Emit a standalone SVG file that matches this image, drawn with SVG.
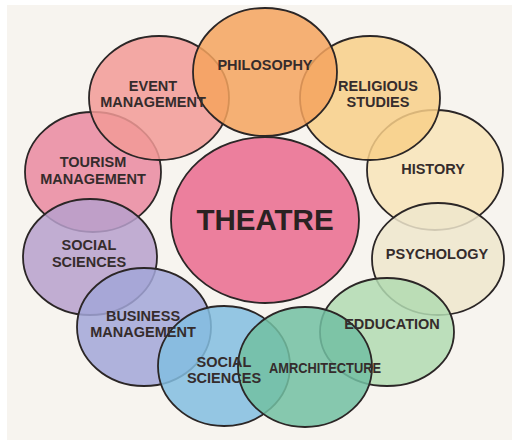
<svg xmlns="http://www.w3.org/2000/svg" width="512" height="441" viewBox="0 0 512 441">
<style>
.c{stroke:#2b2626;stroke-width:1.8;fill-opacity:0.85}
.t{font-family:"Liberation Sans",Arial,sans-serif;font-weight:bold;font-size:14.5px;fill:#352c2c;text-anchor:middle}
.big{font-size:29.5px;fill:#2a2222}
</style>
<rect x="0" y="0" width="512" height="441" fill="#ffffff"/>
<rect x="7" y="5" width="505" height="435" fill="#f7f4ef"/>
<g id="connectors"></g>
<g id="tourism"><ellipse class="c" cx="93" cy="172" rx="68" ry="60" fill="#ea88a0"/></g>
<g id="event"><ellipse class="c" cx="159" cy="98" rx="70" ry="62" fill="#f29a96"/></g>
<g id="history"><ellipse class="c" cx="435" cy="170" rx="68" ry="60" fill="#f8e4b8"/></g>
<g id="religious"><ellipse class="c" cx="370" cy="98" rx="70" ry="62" fill="#f8cf88"/></g>
<g id="philosophy"><ellipse class="c" cx="265" cy="72" rx="72" ry="64" fill="#f4a35e"/></g>
<g id="social-left"><ellipse class="c" cx="90" cy="257" rx="67" ry="58" fill="#b7a0cc"/></g>
<g id="psychology"><ellipse class="c" cx="438" cy="259" rx="66" ry="56" fill="#efe6cc"/></g>
<g id="business"><ellipse class="c" cx="144" cy="327" rx="67" ry="59" fill="#a2a6d8"/></g>
<g id="education"><ellipse class="c" cx="387" cy="332" rx="67" ry="54" fill="#b2dab2"/></g>
<g id="social-bottom"><ellipse class="c" cx="224" cy="366" rx="66" ry="60" fill="#82bde0"/></g>
<g id="architecture"><ellipse class="c" cx="305" cy="367" rx="67" ry="60" fill="#72bfa2"/></g>
<g id="theatre"><ellipse class="c" cx="265" cy="220" rx="94" ry="83" fill="#ea6a8e" fill-opacity="1"/></g>
<g id="labels">
<text class="t" x="265" y="70">PHILOSOPHY</text>
<text class="t" x="153" y="91">EVENT</text>
<text class="t" x="153" y="107">MANAGEMENT</text>
<text class="t" x="378" y="91">RELIGIOUS</text>
<text class="t" x="378" y="107">STUDIES</text>
<text class="t" x="93" y="167">TOURISM</text>
<text class="t" x="93" y="184">MANAGEMENT</text>
<text class="t" x="433" y="174">HISTORY</text>
<text class="t big" x="265" y="230">THEATRE</text>
<text class="t" x="89" y="250">SOCIAL</text>
<text class="t" x="89" y="267">SCIENCES</text>
<text class="t" x="437" y="259">PSYCHOLOGY</text>
<text class="t" x="143" y="321">BUSINESS</text>
<text class="t" x="143" y="337">MANAGEMENT</text>
<text class="t" x="392" y="329">EDDUCATION</text>
<text class="t" x="224" y="367">SOCIAL</text>
<text class="t" x="224" y="383">SCIENCES</text>
<text class="t" x="325" y="373" textLength="112" lengthAdjust="spacingAndGlyphs">AMRCHITECTURE</text>
</g>
</svg>
